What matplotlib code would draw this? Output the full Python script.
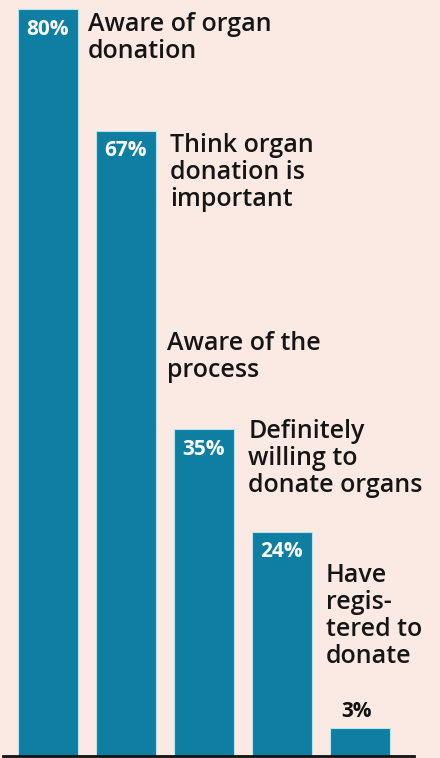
import matplotlib.pyplot as plt

# Données
values = [80, 67, 35, 24, 3]
value_labels = ['80%', '67%', '35%', '24%', '3%']
descriptions = [
    'Aware of organ\ndonation',
    'Think organ\ndonation is\nimportant',
    'Definitely\nwilling to\ndonate organs',
    'Have\nregis-\ntered to\ndonate',
]
extra_label = 'Aware of the\nprocess'
extra_value = 45.5

bg = '#fbeae3'
teal = '#0e7ea2'
font = 'Open Sans'

fig = plt.figure(figsize=(4.4, 7.58), dpi=100, facecolor=bg)
ax = fig.add_axes([0, 0, 1, 1])
ax.set_facecolor(bg)

x = list(range(len(values)))
ax.bar(x, values, width=0.78, color=teal, edgecolor='#b9e2ee', linewidth=0.8)

ax.set_xlim(-0.615, 5.026)
ax.set_ylim(-0.21, 81.0)
ax.axis('off')

# Ligne de base
ax.axhline(0, xmin=0.007, xmax=0.94, color='#111111', linewidth=2)

# Valeurs dans les barres
for i in range(4):
    ax.text(x[i], values[i] - 1.0, value_labels[i], color='white', fontsize=15,
            fontweight='bold', ha='center', va='top', family=font)
ax.text(x[4] - 0.05, values[4] + 0.6, value_labels[4], color='#111111', fontsize=15,
        fontweight='bold', ha='center', va='bottom', family=font)

# Libellés
kw = dict(fontsize=18, fontweight='semibold', color='#151515', va='top',
          ha='left', family=font, linespacing=1.1)
ax.text(x[0] + 0.51, values[0] - 0.3, descriptions[0], **kw)
ax.text(x[1] + 0.57, values[1] - 0.3, descriptions[1], **kw)
ax.text(x[1] + 0.52, extra_value, extra_label, **kw)
ax.text(x[2] + 0.57, values[2] + 1.1, descriptions[2], **kw)
ax.text(x[3] + 0.56, values[3] - 3.3, descriptions[3], **kw)

plt.savefig('out.png', dpi=100, facecolor=bg)
